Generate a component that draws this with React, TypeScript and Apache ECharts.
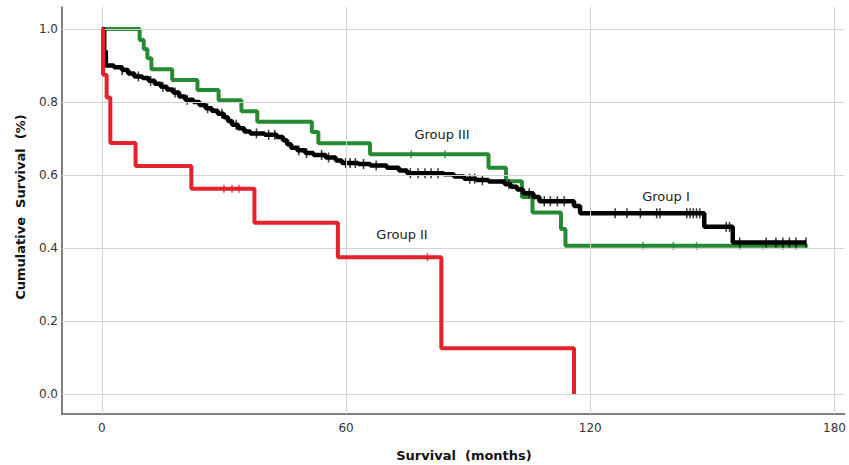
import React, { useEffect, useRef } from "react";
import * as echarts from "echarts";

// ---- Data ----
const xTicks = [0, 60, 120, 180];
const yTicks = [0, 0.2, 0.4, 0.6, 0.8, 1.0];

// Group I (black): event times (months) and survival after each event
const group1Times = [0, 0.6, 1.0, 3, 5, 6.5, 8, 10, 11.5, 13, 14.5, 16, 17.5, 19, 20.5, 22.5, 24, 25.5, 27, 28.5, 30, 31, 32, 33.5, 35, 36.5, 40, 43, 44.5, 45.5, 46.5, 48, 50, 52, 55, 57.5, 59, 63, 66, 70, 73, 75, 84, 86.5, 89, 92, 95, 99, 100.5, 102, 103.5, 106, 107.5, 116, 117.5, 148, 155, 173];
const group1Surv = [1, 0.94, 0.9, 0.895, 0.888, 0.878, 0.87, 0.866, 0.858, 0.85, 0.842, 0.834, 0.826, 0.815, 0.806, 0.8, 0.792, 0.783, 0.776, 0.768, 0.758, 0.748, 0.738, 0.728, 0.719, 0.714, 0.71, 0.704, 0.695, 0.684, 0.675, 0.668, 0.66, 0.655, 0.648, 0.64, 0.633, 0.63, 0.626, 0.62, 0.612, 0.605, 0.602, 0.596, 0.59, 0.586, 0.582, 0.575, 0.568, 0.56, 0.55, 0.54, 0.528, 0.515, 0.495, 0.458, 0.415, 0.415];
const group1Censored = [5, 9, 12, 15, 18, 21, 26, 29.5, 33, 38, 41, 42.5, 48.4, 50.3, 54, 55.7, 59.9, 61, 62.3, 64.3, 67.4, 75.8, 77.7, 79.4, 80.9, 82.6, 90.4, 91.6, 93.5, 100, 105, 108.7, 110.2, 111.9, 113.6, 126.1, 129, 132.3, 136.3, 137.1, 143.7, 144.5, 145.3, 146.1, 146.9, 153.4, 154.2, 156.7, 163.2, 165.6, 167.3, 168.9, 170.5, 173];

// Group II (red)
const group2Times = [0, 0.3, 1.2, 2.1, 8.3, 22, 37.5, 58, 83.4, 116];
const group2Surv = [1, 0.875, 0.8125, 0.6875, 0.625, 0.5625, 0.469, 0.375, 0.125, 0];
const group2Censored = [30, 32, 33.7, 80];

// Group III (green)
const group3Times = [0, 9.3, 10.3, 11.2, 12.2, 17.3, 23.5, 28.7, 34.3, 38.2, 51.6, 53.2, 65.9, 95, 99.3, 103.2, 105.8, 112.8, 113.9, 173.4];
const group3Surv = [1, 0.97, 0.945, 0.92, 0.89, 0.86, 0.833, 0.805, 0.775, 0.746, 0.718, 0.687, 0.657, 0.62, 0.583, 0.54, 0.497, 0.452, 0.406, 0.406];
const group3Censored = [76, 84.3, 133, 140.4, 146.1, 156.7, 162.4, 167.3, 170.5];

const groupLabels = ["Group I", "Group II", "Group III"];

function survAt(times: number[], surv: number[], t: number) {
  let s = surv[0];
  for (let i = 0; i < times.length; i++) if (times[i] <= t) s = surv[i];
  return s;
}

function pairs(times: number[], surv: number[]) {
  return times.map((t, i) => [t, surv[i]]);
}

function censorPts(times: number[], surv: number[], cens: number[]) {
  return cens.map((t) => [t, survAt(times, surv, t)]);
}

const BLACK = "#000000";
const RED = "#e3222c";
const GREEN = "#268a32";
const FONT = "DejaVu Sans";

export default function App() {
  const ref = useRef<HTMLDivElement>(null);
  useEffect(() => {
    if (!ref.current) return;
    const chart = echarts.init(ref.current, null, { renderer: "svg" });
    const lineBase = {
      type: "line",
      step: "end",
      showSymbol: false,
      symbol: "none",
      silent: true,
    };
    const censorBase = {
      type: "scatter",
      symbol: "rect",
      silent: true,
    };
    chart.setOption({
      animation: false,
      backgroundColor: "#ffffff",
      grid: { left: 62, right: 0, top: 7, bottom: 51, containLabel: false },
      xAxis: {
        type: "value",
        min: -9.77,
        max: 182.5,
        axisLine: { show: true, onZero: false, lineStyle: { color: "#555555", width: 1.5 } },
        axisTick: { show: false, customValues: xTicks },
        axisLabel: {
          customValues: xTicks,
          color: "#333",
          fontSize: 12,
          fontFamily: FONT,
          margin: 8,
          formatter: (v: number) => String(v),
        },
        splitLine: { show: false },
      },
      yAxis: {
        type: "value",
        min: -0.0548,
        max: 1.0603,
        axisLine: { show: true, onZero: false, lineStyle: { color: "#555555", width: 1.5 } },
        axisTick: { show: false, customValues: yTicks },
        axisLabel: {
          customValues: yTicks,
          color: "#333",
          fontSize: 12,
          fontFamily: FONT,
          margin: 4,
          formatter: (v: number) => v.toFixed(1),
        },
        splitLine: { show: false },
      },
      series: [
        {
          type: "line",
          data: [],
          z: 1,
          silent: true,
          markLine: {
            silent: true,
            symbol: "none",
            animation: false,
            label: { show: false },
            lineStyle: { color: "#d2d2d2", width: 1, type: "solid" },
            data: [
              ...xTicks.map((v) => ({ xAxis: v })),
              ...yTicks.map((v) => ({ yAxis: v })),
            ],
          },
        },
        {
          ...lineBase,
          name: groupLabels[2],
          z: 3,
          data: pairs(group3Times, group3Surv),
          lineStyle: { color: GREEN, width: 4 },
        },
        {
          ...censorBase,
          z: 3,
          symbolSize: [1.5, 8],
          itemStyle: { color: GREEN },
          data: censorPts(group3Times, group3Surv, group3Censored),
        },
        {
          ...lineBase,
          name: groupLabels[0],
          z: 4,
          data: pairs(group1Times, group1Surv),
          lineStyle: { color: BLACK, width: 4.5 },
        },
        {
          ...censorBase,
          z: 4,
          symbolSize: [1.5, 10],
          itemStyle: { color: BLACK },
          data: censorPts(group1Times, group1Surv, group1Censored),
        },
        {
          ...lineBase,
          name: groupLabels[1],
          z: 5,
          data: pairs(group2Times, group2Surv),
          lineStyle: { color: RED, width: 4 },
        },
        {
          ...censorBase,
          z: 5,
          symbolSize: [1.5, 8],
          itemStyle: { color: RED },
          data: censorPts(group2Times, group2Surv, group2Censored),
        },
      ],
      graphic: [
        {
          type: "text",
          x: 20,
          y: 207,
          rotation: Math.PI / 2,
          style: {
            text: "Cumulative  Survival  (%)",
            font: `bold 13px ${FONT}`,
            fill: "#111",
            textAlign: "center",
            textVerticalAlign: "middle",
          },
        },
        {
          type: "text",
          x: 464,
          y: 455,
          style: {
            text: "Survival  (months)",
            font: `bold 13px ${FONT}`,
            fill: "#111",
            textAlign: "center",
            textVerticalAlign: "middle",
          },
        },
        {
          type: "text",
          x: 442,
          y: 134,
          style: { text: groupLabels[2], font: `13px ${FONT}`, fill: "#222", textAlign: "center", textVerticalAlign: "middle" },
        },
        {
          type: "text",
          x: 402,
          y: 234,
          style: { text: groupLabels[1], font: `13px ${FONT}`, fill: "#222", textAlign: "center", textVerticalAlign: "middle" },
        },
        {
          type: "text",
          x: 666,
          y: 196,
          style: { text: groupLabels[0], font: `13px ${FONT}`, fill: "#222", textAlign: "center", textVerticalAlign: "middle" },
        },
      ],
    });
    return () => chart.dispose();
  }, []);
  return (
    <div
      ref={ref}
      style={{ position: "absolute", left: 0, top: 0, width: 849, height: 465, background: "#fff" }}
    />
  );
}
